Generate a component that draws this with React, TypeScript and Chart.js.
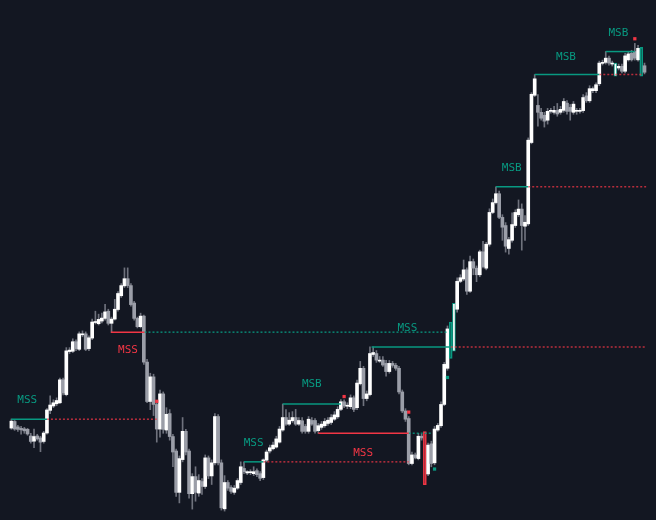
import React, { useEffect, useRef } from 'react';
import { Chart, registerables } from 'chart.js';

Chart.register(...registerables);

// ---- candle data (price units) ----
const opens = [
  89.3, 96, 90.5, 89, 88.5, 88, 81.3, 76, 81.3, 79.3,
  75.7, 84.3, 107.3, 111.7, 114, 115, 138.3, 123.3, 167, 167.3,
  177, 169.3, 184, 185, 170, 180.7, 196.5, 195.3, 198, 200.7,
  208, 195.7, 200, 209.7, 223.7, 233.7, 241, 234, 216.3, 200.7,
  192.3, 203, 156.3, 116.3, 141.3, 113.3, 88.3, 124, 87.3, 104,
  80.7, 66, 24, 57.3, 86, 66, 22.7, 40, 23.3, 35,
  30, 59, 40.7, 54, 101, 54, 7.3, 34, 29, 24,
  28.3, 34, 48.3, 43.7, 44, 43, 46, 43, 39, 56.7,
  66, 68.3, 70, 75, 87.3, 100, 93.3, 96.7, 100, 93.3,
  96.7, 91, 86, 97, 97, 86.7, 90, 91.7, 94, 95,
  98.3, 100.7, 108.3, 116, 111.5, 111, 120, 110, 134.3, 150,
  119.3, 123.3, 164, 165, 157.3, 158.3, 155, 146.7, 155, 153,
  150, 126, 106.7, 99, 53.3, 62, 58.3, 81, 85.7, 42.7,
  73.3, 54, 87.3, 91.7, 113.3, 150, 160, 167.3, 210, 238.3,
  240.7, 250, 228.3, 258.3, 251.7, 245, 268.3, 251.7, 276, 308.3,
  318.3, 327.3, 303.3, 295, 271.7, 280, 295, 306, 311.7, 294.3,
  296.7, 379.3, 427.3, 417, 410, 407, 402, 411, 410, 412,
  410, 412, 419.3, 415, 410, 411, 411, 411.7, 426.7, 421.7,
  432, 432, 439, 459.7, 460.7, 465, 459, 446.7, 455, 456.7,
  451.7, 463.3, 470, 471.7, 463.3, 446.7, 457.3,
];
const highs = [
  98.5, 97, 92, 91, 90, 89, 84, 88.3, 83, 81,
  86, 109, 122, 118, 120, 140, 140, 171, 171, 180,
  179, 187, 188, 187, 183, 200, 208, 205, 206, 215,
  210, 202, 220, 228, 236, 252, 252, 236, 218, 202,
  206, 204, 159, 145, 144, 115, 128, 126, 110, 108,
  83, 68, 61, 100, 88, 68, 43, 50, 42, 38,
  62, 61, 57, 104, 103, 57, 41, 36, 31, 31,
  38, 55, 55, 46, 47, 50, 48, 45, 58, 67,
  72, 75, 81, 91, 113.7, 108, 105, 106, 108.3, 100,
  100, 93, 101, 100, 99, 94, 96, 99, 100, 103,
  106, 111, 118.3, 118, 115, 123, 122, 138, 157, 152,
  127, 171.7, 171.7, 168, 162, 162, 158, 158, 157, 155,
  152, 128, 109, 101, 65, 64, 84, 83, 85.7, 74,
  76, 91, 94, 116, 156, 193, 197, 216, 242, 245,
  260, 252, 264, 261, 254, 270, 279, 278, 312, 322,
  334.3, 330, 306, 298, 283, 308, 311, 321, 317, 305,
  384, 430, 448.3, 428, 414, 410, 414, 414, 416, 419,
  416, 424, 422, 418, 421, 414, 414, 428, 430, 437,
  436, 440, 462, 463, 471.7, 467, 462, 460, 459, 459,
  470, 472, 473, 480, 478, 476, 460,
];
const lows = [
  88, 87, 86, 83, 84, 82, 74, 69.3, 77, 65.3,
  74, 83, 104, 110, 112, 114, 123, 122, 165, 166,
  168, 168, 182, 168, 168, 179, 195, 194, 196, 199,
  194, 186.3, 199, 208, 222, 232, 232, 213, 199, 191,
  191, 154, 115, 108, 102, 75, 80, 84, 84, 77,
  50, 20, 13.3, 55, 62, 18, 7, 15, 20, 22,
  28, 38, 32, 52, 52, 6, 5, 26, 23, 22,
  27, 32, 43, 42, 42, 41, 40, 36, 37, 55,
  64, 67, 69, 74, 86, 92, 92, 95, 92, 92,
  84, 84, 84, 92, 84, 84, 88, 90, 92, 93,
  97, 99, 107, 110, 109, 109, 106, 108, 133, 112,
  117, 122, 162, 156, 156, 152, 142, 145, 151, 148,
  124, 105, 96, 52, 52, 58, 57, 77, 31.7, 41,
  50, 52, 86, 90, 112, 148, 160, 167.3, 207, 237,
  239, 225, 227, 245, 238, 243, 252, 250, 274, 307,
  317, 302, 280, 268, 266, 278, 293, 304, 270, 280,
  295, 378, 426, 396, 402, 395, 398, 409, 408, 406,
  408, 410, 408, 402, 408, 408, 409, 410, 420, 420,
  430, 430, 437, 458, 459, 458, 457, 446.7, 453, 450,
  450, 462, 462, 463, 462, 446.7, 449,
];
const closes = [
  96.3, 88.3, 88, 87.5, 86.5, 83.3, 75.7, 80.7, 78.3, 75,
  84.3, 107.7, 112.7, 115, 117.3, 138.3, 125, 167.7, 168.5, 177,
  170, 185, 185, 169.3, 181, 197, 197.3, 199.7, 201, 207.3,
  195.7, 200, 210, 226, 234, 241, 234, 214.7, 200.7, 192.3,
  203, 156.3, 116.3, 141.3, 113.3, 88.3, 124, 88, 103.3, 80.7,
  65, 24, 58.3, 86, 65, 22.7, 40, 24, 36, 30,
  59, 40.7, 54, 101, 54, 8.3, 34, 28.3, 25, 28.3,
  36, 50, 45, 45, 45, 45, 42, 38.3, 57, 65,
  69.3, 72, 78.3, 88.3, 100, 93.3, 97.3, 100, 93.3, 97,
  86, 86, 98.3, 93.3, 86, 91.7, 93.3, 96, 97.3, 100,
  102.7, 108.3, 116, 111.7, 112.5, 120, 108.3, 135, 150, 119.3,
  124, 165, 166, 158.3, 158.3, 153.3, 146.7, 155, 153, 150,
  126, 106.7, 98.3, 53.3, 62, 59.3, 81, 79.3, 31.7, 72,
  53.3, 88.3, 92, 113.3, 154, 190, 197, 216, 238.3, 242,
  250, 228.3, 258.3, 251.7, 245, 268.3, 253.3, 276, 308.3, 318.3,
  327.3, 303.3, 293.3, 274, 280.7, 296, 308.3, 311.7, 295, 298.3,
  381.7, 428.3, 444, 410, 404, 401, 411, 412, 412, 408.3,
  413, 421, 411, 411, 418.3, 412, 412, 425, 421.7, 434,
  434, 438, 460, 460.7, 465, 460, 460, 460, 456.7, 451.7,
  467.3, 469.3, 463.3, 465, 475, 476, 450.7,
];

// highlighted candles
const bearishBoxes = [128];
const bullishBoxes = [136, 195];
const bullishFramed = [137, 187];

// market-structure levels: solid break lines
const structureLines = [
  { from: 0, to: 11, level: 98.3, side: 'bull' },
  { from: 30.8, to: 41.2, level: 186.7, side: 'bear' },
  { from: 72, to: 78, level: 55, side: 'bull' },
  { from: 84, to: 102, level: 113.7, side: 'bull' },
  { from: 95, to: 123, level: 84, side: 'bear' },
  { from: 111.5, to: 136, level: 171.7, side: 'bull' },
  { from: 150, to: 160, level: 334.3, side: 'bull' },
  { from: 162, to: 182, level: 448.3, side: 'bull' },
  { from: 184, to: 193, level: 471.7, side: 'bull' },
];
// dotted extensions
const extensionLines = [
  { from: 11, to: 45, level: 98.3, side: 'bear' },
  { from: 41.2, to: 135, level: 186.7, side: 'bull' },
  { from: 78, to: 123, level: 55, side: 'bear' },
  { from: 123, to: 130, level: 84, side: 'bull' },
  { from: 136, to: 196.5, level: 171.7, side: 'bear' },
  { from: 160, to: 196.5, level: 334.3, side: 'bear' },
  { from: 182, to: 195.6, level: 448.3, side: 'bear' },
];
const structureLabels = [
  { at: 4.9, level: 118, text: 'MSS', side: 'bull' },
  { at: 36.1, level: 168.5, text: 'MSS', side: 'bear' },
  { at: 75, level: 74.5, text: 'MSS', side: 'bull' },
  { at: 93, level: 134, text: 'MSB', side: 'bull' },
  { at: 108.9, level: 64, text: 'MSS', side: 'bear' },
  { at: 122.6, level: 190.5, text: 'MSS', side: 'bull' },
  { at: 154.9, level: 353.3, text: 'MSB', side: 'bull' },
  { at: 171.7, level: 466.3, text: 'MSB', side: 'bull' },
  { at: 187.9, level: 490.5, text: 'MSB', side: 'bull' },
];
const bearMarks = [
  { at: 45, level: 116.5 },
  { at: 103, level: 121.3 },
  { at: 123, level: 105.5 },
  { at: 193, level: 484.7 },
];
const bullMarks = [
  { at: 131, level: 47.7 },
  { at: 135, level: 140.7 },
];

const BG = '#131722';
const TEAL = '#089981';
const RED = '#f23645';
const UP = '#ffffff';
const DOWN = '#9b9ea8';
const WICK = '#6f727d';

const SPACING = 3.27;
const X_MIN = -7.5 / SPACING;
const X_MAX = X_MIN + 656 / SPACING;

const labelPlugin = {
  id: 'structureLabels',
  afterDatasetsDraw(chart: any) {
    const { ctx, scales } = chart;
    const x = scales.x;
    const y = scales.y;
    ctx.save();
    ctx.font = '11px "DejaVu Sans Mono"';
    ctx.textAlign = 'center';
    ctx.textBaseline = 'middle';
    structureLabels.forEach((l) => {
      ctx.fillStyle = l.side === 'bull' ? TEAL : RED;
      ctx.fillText(l.text, x.getPixelForValue(l.at), y.getPixelForValue(l.level));
    });
    ctx.restore();
  },
};

export default function App() {
  const ref = useRef<HTMLCanvasElement>(null);

  useEffect(() => {
    if (!ref.current) return;
    const n = opens.length;
    const idx = Array.from({ length: n }, (_, i) => i);

    const bodyFill = idx.map((i) => {
      if (bearishBoxes.includes(i) || bullishBoxes.includes(i)) return 'rgba(0,0,0,0)';
      if (bullishFramed.includes(i)) return UP;
      return closes[i] >= opens[i] ? UP : DOWN;
    });
    const bodyBorder = idx.map((i) => {
      if (bearishBoxes.includes(i)) return RED;
      if (bullishBoxes.includes(i) || bullishFramed.includes(i)) return TEAL;
      return 'rgba(0,0,0,0)';
    });
    const bodyBorderWidth = idx.map((i) =>
      bearishBoxes.includes(i) || bullishBoxes.includes(i) || bullishFramed.includes(i) ? 1 : 0
    );

    const lineSets: any[] = [];
    structureLines.forEach((s) => {
      lineSets.push({
        type: 'line',
        data: [
          { x: s.from, y: s.level },
          { x: s.to, y: s.level },
        ],
        borderColor: s.side === 'bull' ? TEAL : RED,
        borderWidth: 1.5,
        pointRadius: 0,
        fill: false,
        order: 1,
      });
    });
    extensionLines.forEach((s) => {
      lineSets.push({
        type: 'line',
        data: [
          { x: s.from, y: s.level },
          { x: s.to, y: s.level },
        ],
        borderColor: s.side === 'bull' ? 'rgba(8,153,129,0.85)' : 'rgba(242,54,69,0.75)',
        borderWidth: 1.5,
        borderDash: [2, 2],
        pointRadius: 0,
        fill: false,
        order: 1,
      });
    });

    const chart = new Chart(ref.current, {
      type: 'bar',
      data: {
        datasets: [
          {
            type: 'bar',
            data: idx.map((i) => ({ x: i, y: [lows[i], highs[i]] })),
            backgroundColor: idx.map((i) =>
              bearishBoxes.includes(i) || bullishBoxes.includes(i) || bullishFramed.includes(i)
                ? 'rgba(0,0,0,0)'
                : WICK
            ),
            barThickness: 1,
            grouped: false,
            order: 4,
          },
          {
            type: 'bar',
            data: idx.map((i) => ({ x: i, y: [opens[i], closes[i]] })),
            backgroundColor: bodyFill,
            borderColor: bodyBorder,
            borderWidth: bodyBorderWidth,
            borderSkipped: false,
            barThickness: 3,
            minBarLength: 1,
            grouped: false,
            order: 3,
          },
          ...lineSets,
          {
            type: 'scatter',
            data: bearMarks.map((m) => ({ x: m.at, y: m.level })),
            backgroundColor: RED,
            borderWidth: 0,
            pointStyle: 'rect',
            pointRadius: 2.3,
            order: 0,
          },
          {
            type: 'scatter',
            data: bullMarks.map((m) => ({ x: m.at, y: m.level })),
            backgroundColor: TEAL,
            borderWidth: 0,
            pointStyle: 'rect',
            pointRadius: 2.3,
            order: 0,
          },
        ] as any,
      },
      options: {
        animation: false,
        responsive: false,
        devicePixelRatio: 1,
        events: [],
        layout: { padding: 0 },
        plugins: {
          legend: { display: false },
          tooltip: { enabled: false },
        },
        scales: {
          x: { type: 'linear', min: X_MIN, max: X_MAX, display: false, offset: false },
          y: { type: 'linear', min: 0, max: 520, display: false },
        },
      } as any,
      plugins: [labelPlugin],
    });
    return () => chart.destroy();
  }, []);

  return (
    <div style={{ position: 'fixed', left: 0, top: 0, width: 656, height: 520, background: BG }}>
      <canvas ref={ref} width={656} height={520} style={{ display: 'block' }} />
    </div>
  );
}
